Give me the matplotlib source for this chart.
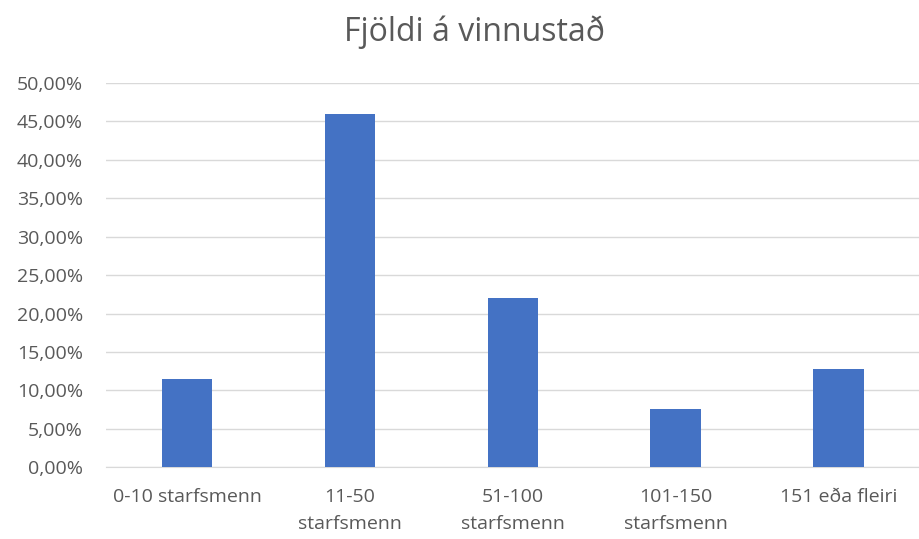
import numpy as np
import matplotlib.pyplot as plt
from matplotlib.ticker import FuncFormatter

plt.rcParams['font.family'] = ['Open Sans', 'DejaVu Sans']

# gögn
flokkar = ['0-10 starfsmenn', '11-50\nstarfsmenn', '51-100\nstarfsmenn',
           '101-150\nstarfsmenn', '151 eða fleiri']
hlutfall = [0.1148, 0.4597, 0.2203, 0.0757, 0.1277]
yticks = np.arange(0, 0.501, 0.05)

fig = plt.figure(figsize=(9.2, 5.39), dpi=100)
ax = fig.add_axes([0.115, 0.133, 0.885, 0.713])

x = np.arange(len(flokkar))
ax.bar(x, hlutfall, width=0.31, color='#4472C4', zorder=3)

ax.set_xlim(-0.5, len(flokkar) - 0.5)
ax.set_ylim(0, 0.5)
ax.set_yticks(yticks)
ax.yaxis.set_major_formatter(FuncFormatter(lambda v, p: f'{v*100:.2f}%'.replace('.', ',')))
ax.set_xticks(x)
ax.set_xticklabels(flokkar, linespacing=1.6)

ax.grid(axis='y', color='#D9D9D9', linewidth=1, zorder=0)
for s in ['top', 'right', 'left']:
    ax.spines[s].set_visible(False)
ax.spines['bottom'].set_color('#D9D9D9')
ax.tick_params(axis='both', length=0, labelsize=14, colors='#595959')
ax.tick_params(axis='y', pad=16.5)
ax.tick_params(axis='x', pad=15)

fig.text(0.516, 0.94, 'Fjöldi á vinnustað', ha='center', va='center',
         fontsize=23, color='#595959')

fig.savefig('out.png', dpi=100)
